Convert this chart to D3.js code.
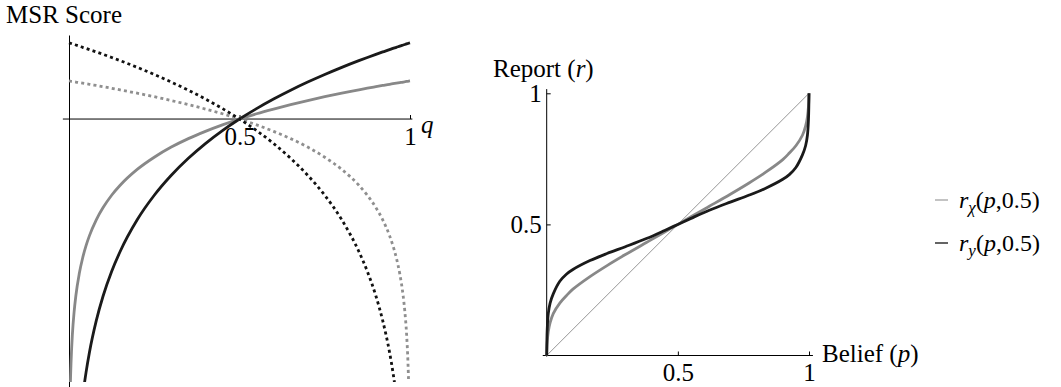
<!DOCTYPE html>
<html>
<head>
<meta charset="utf-8">
<script src="https://cdn.jsdelivr.net/npm/d3@7"></script>
<style>
body { margin: 0; background: #fff; }
text { font-family: "Liberation Serif", "Times New Roman", serif; fill: #000; }
</style>
</head>
<body>
<svg id="chart" width="1061" height="387"></svg>
<script>
// left panel: MSR score against q
const qValues = [0, 0.002, 0.004, 0.006, 0.01, 0.015, 0.02, 0.03, 0.04, 0.05, 0.06, 0.08, 0.1, 0.125, 0.15,
    0.2, 0.25, 0.3, 0.35, 0.4, 0.45, 0.5, 0.55, 0.6, 0.65, 0.7, 0.75, 0.8, 0.85, 0.875, 0.9, 0.92, 0.94,
    0.95, 0.96, 0.97, 0.98, 0.985, 0.99, 0.994, 0.996, 0.998, 1];
const scoreBlackSolid = [null, -5.521, -4.828, -4.423, -3.912, -3.507, -3.219, -2.813, -2.526, -2.303, -2.120,
    -1.833, -1.609, -1.386, -1.204, -0.916, -0.693, -0.511, -0.357, -0.223, -0.105, 0, 0.095, 0.182, 0.262,
    0.336, 0.405, 0.470, 0.531, 0.560, 0.588, 0.610, 0.631, 0.642, 0.652, 0.663, 0.673, 0.678, 0.683, 0.687,
    0.689, 0.691, 0.693];
const scoreGraySolid = [null, -2.761, -2.414, -2.212, -1.956, -1.754, -1.609, -1.407, -1.263, -1.151, -1.060,
    -0.916, -0.805, -0.693, -0.602, -0.458, -0.347, -0.255, -0.178, -0.112, -0.053, 0, 0.048, 0.091, 0.131,
    0.168, 0.203, 0.235, 0.265, 0.280, 0.294, 0.305, 0.316, 0.321, 0.326, 0.331, 0.336, 0.339, 0.342, 0.343,
    0.345, 0.346, 0.347];
const scoreBlackDotted = [0.693, 0.691, 0.689, 0.687, 0.683, 0.678, 0.673, 0.663, 0.652, 0.642, 0.631, 0.610,
    0.588, 0.560, 0.531, 0.470, 0.405, 0.336, 0.262, 0.182, 0.095, 0, -0.105, -0.223, -0.357, -0.511, -0.693,
    -0.916, -1.204, -1.386, -1.609, -1.833, -2.120, -2.303, -2.526, -2.813, -3.219, -3.507, -3.912, -4.423,
    -4.828, -5.521, null];
const scoreGrayDotted = [0.347, 0.346, 0.345, 0.343, 0.342, 0.339, 0.336, 0.331, 0.326, 0.321, 0.316, 0.305,
    0.294, 0.280, 0.265, 0.235, 0.203, 0.168, 0.131, 0.091, 0.048, 0, -0.053, -0.112, -0.178, -0.255, -0.347,
    -0.458, -0.602, -0.693, -0.805, -0.916, -1.060, -1.151, -1.263, -1.407, -1.609, -1.754, -1.956, -2.212,
    -2.414, -2.761, null];
const qTicks = [0.5, 1];

// right panel: report against belief
const pValues = [0, 0.002, 0.006, 0.013, 0.025, 0.05, 0.075, 0.1, 0.165, 0.23, 0.3, 0.38, 0.45, 0.5,
    0.55, 0.62, 0.7, 0.77, 0.835, 0.9, 0.925, 0.95, 0.975, 0.987, 0.994, 0.998, 1];
const reportX = [0, 0.05, 0.09, 0.125, 0.16, 0.2, 0.228, 0.253, 0.301, 0.343, 0.385, 0.431, 0.471, 0.5,
    0.529, 0.569, 0.615, 0.657, 0.699, 0.747, 0.772, 0.8, 0.84, 0.875, 0.91, 0.95, 1];
const reportY = [0, 0.1, 0.16, 0.2, 0.235, 0.283, 0.31, 0.328, 0.362, 0.389, 0.415, 0.446, 0.477, 0.5,
    0.523, 0.554, 0.585, 0.611, 0.638, 0.672, 0.69, 0.717, 0.765, 0.8, 0.84, 0.9, 1];
const unitTicks = [0.5, 1];
const legendLabels = ["χ", "y"];

const svg = d3.select("#chart");

// ---------- left panel ----------
const xq = d3.scaleLinear().domain([0, 1]).range([69, 410]);
const ys = d3.scaleLinear().domain([-2.436, 0.764]).range([387, 35]);

svg.append("defs").append("clipPath").attr("id", "leftclip")
    .append("rect").attr("x", 60).attr("y", 30).attr("width", 360).attr("height", 352);

svg.append("g")
    .attr("transform", `translate(${xq(0)},0)`)
    .call(d3.axisLeft(ys).tickValues([]).tickSizeOuter(0))
    .select(".domain").attr("stroke-width", 1);

const xqAxis = svg.append("g")
    .attr("transform", `translate(0,${ys(0)})`)
    .call(d3.axisBottom(xq).tickValues(qTicks).tickSizeInner(-4).tickSizeOuter(0).tickPadding(8)
        .tickFormat(d => d === 1 ? "1" : d));
xqAxis.select(".domain").remove();
xqAxis.append("line")
    .attr("x1", xq(-0.018)).attr("x2", xq(1.007))
    .attr("stroke", "#000").attr("stroke-width", 1);
xqAxis.selectAll("text").attr("font-size", 25).attr("font-family", "Liberation Serif").attr("fill", "#000");

const lineQ = d3.line()
    .defined(d => d[1] !== null)
    .x(d => xq(d[0]))
    .y(d => ys(d[1]))
    .curve(d3.curveMonotoneX);

const leftSeries = [
    { vals: scoreGraySolid, color: "#888888", dash: null },
    { vals: scoreBlackSolid, color: "#1a1a1a", dash: null },
    { vals: scoreGrayDotted, color: "#8f8f8f", dash: "3,3.2" },
    { vals: scoreBlackDotted, color: "#111111", dash: "3,3.2" }
];

svg.append("g").attr("clip-path", "url(#leftclip)")
    .selectAll("path")
    .data(leftSeries)
    .join("path")
    .attr("d", s => lineQ(qValues.map((q, i) => [q, s.vals[i]])))
    .attr("fill", "none")
    .attr("stroke", s => s.color)
    .attr("stroke-width", 2.8)
    .attr("stroke-dasharray", s => s.dash);

svg.append("text").attr("x", 6).attr("y", 23).attr("font-size", 25).text("MSR Score");
svg.append("text").attr("x", 421).attr("y", 133).attr("font-size", 25)
    .attr("font-style", "italic").text("q");

// ---------- right panel ----------
const xp = d3.scaleLinear().domain([0, 1]).range([546.7, 809]);
const yr = d3.scaleLinear().domain([0, 1]).range([355.5, 93.3]);

const ypAxis = svg.append("g")
    .attr("transform", `translate(${xp(0)},0)`)
    .call(d3.axisLeft(yr).tickValues(unitTicks).tickSizeInner(-4).tickSizeOuter(0).tickPadding(5)
        .tickFormat(d => d === 1 ? "1" : d));
ypAxis.select(".domain").remove();
ypAxis.append("line")
    .attr("y1", yr(-0.004)).attr("y2", yr(1.016))
    .attr("stroke", "#000").attr("stroke-width", 1);
ypAxis.selectAll("text").attr("font-size", 25).attr("font-family", "Liberation Serif").attr("fill", "#000");

const xpAxis = svg.append("g")
    .attr("transform", `translate(0,${yr(0)})`)
    .call(d3.axisBottom(xp).tickValues(unitTicks).tickSizeInner(-4).tickSizeOuter(0).tickPadding(8)
        .tickFormat(d => d === 1 ? "1" : d));
xpAxis.select(".domain").remove();
xpAxis.append("line")
    .attr("x1", xp(-0.015)).attr("x2", xp(1.015))
    .attr("stroke", "#000").attr("stroke-width", 1);
xpAxis.selectAll("text").attr("font-size", 25).attr("font-family", "Liberation Serif").attr("fill", "#000");

// diagonal
svg.append("line")
    .attr("x1", xp(0)).attr("y1", yr(0))
    .attr("x2", xp(1)).attr("y2", yr(1))
    .attr("stroke", "#8a8a8a").attr("stroke-width", 0.9);

const lineP = d3.line()
    .x(d => xp(d[0]))
    .y(d => yr(d[1]))
    .curve(d3.curveCatmullRom.alpha(0.5));

const rightSeries = [
    { vals: reportX, color: "#888888" },
    { vals: reportY, color: "#1a1a1a" }
];

svg.append("g")
    .selectAll("path")
    .data(rightSeries)
    .join("path")
    .attr("d", s => lineP(pValues.map((p, i) => [p, s.vals[i]])))
    .attr("fill", "none")
    .attr("stroke", s => s.color)
    .attr("stroke-width", 2.8);

const reportLabel = svg.append("text").attr("x", 493).attr("y", 77).attr("font-size", 25);
reportLabel.append("tspan").text("Report (");
reportLabel.append("tspan").attr("font-style", "italic").text("r");
reportLabel.append("tspan").text(")");

const beliefLabel = svg.append("text").attr("x", 822).attr("y", 362).attr("font-size", 25);
beliefLabel.append("tspan").text("Belief (");
beliefLabel.append("tspan").attr("font-style", "italic").text("p");
beliefLabel.append("tspan").text(")");

// ---------- legend ----------
const legend = svg.append("g")
    .selectAll("g")
    .data(rightSeries.map((s, i) => ({ color: s.color, sub: legendLabels[i], i })))
    .join("g")
    .attr("transform", d => `translate(935,${200 + d.i * 43})`);

legend.append("line")
    .attr("x1", 0).attr("x2", 13)
    .attr("stroke", d => d.i === 0 ? "#aaaaaa" : "#222")
    .attr("stroke-width", 1.4);

const legText = legend.append("text").attr("x", 24).attr("y", 8).attr("font-size", 24);
legText.append("tspan").attr("font-style", "italic").text("r");
legText.append("tspan").attr("font-style", "italic").attr("font-size", 17).attr("dy", 5).text(d => d.sub);
legText.append("tspan").attr("dy", -5).text("(");
legText.append("tspan").attr("font-style", "italic").text("p");
legText.append("tspan").text(",0.5)");
</script>
</body>
</html>
